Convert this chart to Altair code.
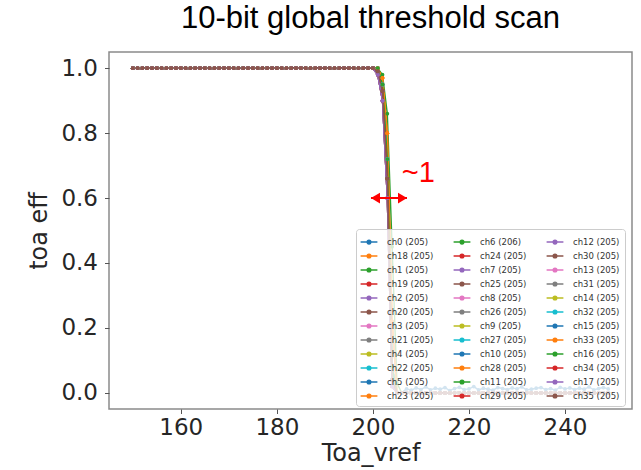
import altair as alt
import pandas as pd

# Channels in the order they were plotted (colour cycle follows this order)
channels = [
    "ch0", "ch18", "ch1", "ch19", "ch2", "ch20", "ch3", "ch21", "ch4", "ch22", "ch5", "ch23",
    "ch6", "ch24", "ch7", "ch25", "ch8", "ch26", "ch9", "ch27", "ch10", "ch28", "ch11", "ch29",
    "ch12", "ch30", "ch13", "ch31", "ch14", "ch32", "ch15", "ch33", "ch16", "ch34", "ch17", "ch35",
]
# threshold found for each channel (all 205 except ch6)
threshold = {ch: 205 for ch in channels}
threshold["ch6"] = 206

tab10 = ["#1f77b4", "#ff7f0e", "#2ca02c", "#d62728", "#9467bd",
         "#8c564b", "#e377c2", "#7f7f7f", "#bcbd22", "#17becf"]

vref = list(range(150, 250))

# efficiency at Toa_vref = 200..206 (1.0 below, 0.0 above)
edge_start = 200
profiles = {
    "a": [1.00, 0.99, 0.93, 0.66, 0.04, 0.00, 0.00],
    "b": [1.00, 1.00, 0.95, 0.72, 0.08, 0.00, 0.00],
    "c": [1.00, 0.98, 0.90, 0.60, 0.02, 0.00, 0.00],
    "d": [1.00, 1.00, 0.97, 0.80, 0.22, 0.00, 0.00],
    "e": [1.00, 1.00, 0.98, 0.86, 0.45, 0.03, 0.00],
}
profile_of = {
    "ch0": "a", "ch18": "d", "ch1": "b", "ch19": "a", "ch2": "c", "ch20": "a",
    "ch3": "b", "ch21": "a", "ch4": "c", "ch22": "b", "ch5": "a", "ch23": "d",
    "ch6": "e", "ch24": "a", "ch7": "c", "ch25": "b", "ch8": "a", "ch26": "c",
    "ch9": "b", "ch27": "a", "ch10": "b", "ch28": "d", "ch11": "a", "ch29": "c",
    "ch12": "c", "ch30": "a", "ch13": "b", "ch31": "a", "ch14": "a", "ch32": "b",
    "ch15": "a", "ch33": "d", "ch16": "b", "ch34": "a", "ch17": "c", "ch35": "a",
}
# residual hits of ch15 above threshold, Toa_vref = 207..249
ch15_tail = [0.012, 0.008, 0.015, 0.010, 0.018, 0.009, 0.014, 0.011, 0.016, 0.007,
             0.013, 0.017, 0.010, 0.012, 0.019, 0.009, 0.014, 0.011, 0.008, 0.016,
             0.013, 0.010, 0.015, 0.012, 0.018, 0.009, 0.011, 0.014, 0.016, 0.010,
             0.013, 0.008, 0.017, 0.012, 0.015, 0.010, 0.014, 0.011, 0.018, 0.009,
             0.013, 0.016, 0.012]

rows = []
for i, ch in enumerate(channels):
    label = f"{ch} ({threshold[ch]})"
    prof = profiles[profile_of[ch]]
    for v in vref:
        if v < edge_start:
            eff = 1.0
        elif v < edge_start + len(prof):
            eff = prof[v - edge_start]
        elif ch == "ch15":
            eff = ch15_tail[v - 207]
        else:
            eff = 0.0
        rows.append({"vref": v, "eff": eff, "label": label, "k": i})
df = pd.DataFrame(rows)

labels = [f"{ch} ({threshold[ch]})" for ch in channels]
colors = [tab10[i % 10] for i in range(len(channels))]

x_scale = alt.Scale(domain=[145.05, 253.95], nice=False, zero=False)
y_scale = alt.Scale(domain=[-0.05, 1.05], nice=False, zero=False)
color_scale = alt.Scale(domain=labels, range=colors)

# legend key: short line with a dot in the middle
sym_path = "M-1.2,0L1.2,0M0.26,0A0.26,0.26,0,1,1,-0.26,0A0.26,0.26,0,1,1,0.26,0Z"
legend = alt.Legend(
    title=None, orient="none", legendX=247, legendY=177, columns=3, symbolLimit=40,
    symbolType=sym_path, symbolSize=196, symbolStrokeWidth=1.5,
    labelFont="DejaVu Sans", labelFontSize=8.5, labelColor="#333333",
    labelOffset=10, columnPadding=16, rowPadding=1, padding=5,
    fillColor="rgba(255,255,255,0.8)", strokeColor="#cccccc", cornerRadius=3,
)

x_enc = alt.X("vref:Q", scale=x_scale,
              axis=alt.Axis(values=[160, 180, 200, 220, 240], title="Toa_vref",
                            labelPadding=3, titlePadding=2))
y_enc = alt.Y("eff:Q", scale=y_scale,
              axis=alt.Axis(values=[0.0, 0.2, 0.4, 0.6, 0.8, 1.0], format=".1f",
                            title="toa eff", labelPadding=7, titlePadding=9))

base = alt.Chart(df)
lines = base.mark_line(strokeWidth=1.4, clip=True).encode(
    x=x_enc, y=y_enc,
    color=alt.Color("label:N", scale=color_scale, legend=legend),
    order="k:Q",
)
points = base.mark_point(filled=True, size=14, opacity=1, clip=True).encode(
    x="vref:Q", y="eff:Q",
    color=alt.Color("label:N", scale=color_scale, legend=legend),
    order="k:Q",
)

# spread annotation: double arrow and label
arrow_x0 = [199.6]
arrow_x1 = [207.1]
arrow_y = [0.6]
arrow_df = pd.DataFrame({"x0": arrow_x0, "x1": arrow_x1, "y": arrow_y})
shaft = alt.Chart(arrow_df).mark_rule(color="red", strokeWidth=2).encode(
    x=alt.X("x0:Q", scale=x_scale), x2="x1:Q", y=alt.Y("y:Q", scale=y_scale))
head_l = alt.Chart(arrow_df).mark_point(
    shape="M0,0L2,-1.2L2,1.2Z", filled=True, color="red", size=81, opacity=1, strokeWidth=0
).encode(x=alt.X("x0:Q", scale=x_scale), y=alt.Y("y:Q", scale=y_scale))
head_r = alt.Chart(arrow_df).mark_point(
    shape="M0,0L-2,-1.2L-2,1.2Z", filled=True, color="red", size=81, opacity=1, strokeWidth=0
).encode(x=alt.X("x1:Q", scale=x_scale), y=alt.Y("y:Q", scale=y_scale))

note_df = pd.DataFrame({"x": [206.0], "y": [0.65], "t": ["~1"]})
note = alt.Chart(note_df).mark_text(
    font="Liberation Sans", fontSize=29, color="red", align="left", baseline="alphabetic"
).encode(x=alt.X("x:Q", scale=x_scale), y=alt.Y("y:Q", scale=y_scale), text="t:N")

chart = alt.layer(lines, points, shaft, head_l, head_r, note).properties(
    width=523, height=357,
    background="white",
    title=alt.TitleParams("10-bit global threshold scan", font="Liberation Sans",
                          fontSize=31, fontWeight="normal", color="black",
                          anchor="middle", baseline="alphabetic", offset=-7),
    autosize=alt.AutoSizeParams(type="none"),
    padding={"left": 109, "top": 52, "right": 9, "bottom": 61},
).configure_axis(
    domain=False, grid=False, tickColor="#555555", tickSize=4.5, tickWidth=1,
    labelFont="DejaVu Sans", labelFontSize=23, labelColor="#262626",
    titleFont="DejaVu Sans", titleFontSize=24, titleFontWeight="normal", titleColor="#262626",
).configure_view(
    stroke="#8a8a8a", strokeWidth=1.5
)

chart.save("out.html", embed_options={"renderer": "svg", "actions": False})
